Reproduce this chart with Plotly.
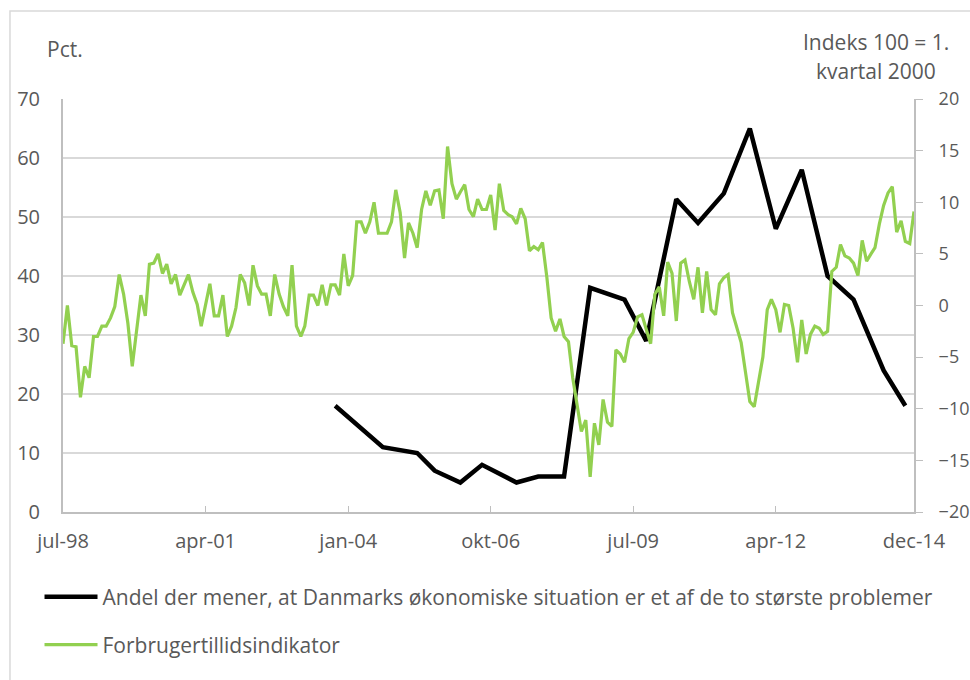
import pandas as pd
import plotly.graph_objects as go

# Forbrugertillidsindikator, månedlig jul-98 .. dec-14 (højre akse)
tillid_start = "1998-07-01"
tillid_slut = "2014-12-01"
tillid = [
    -3.7, 0.0, -3.9, -4.0, -8.9, -5.9, -7.0, -3.0, -3.0, -2.0,
    -2.0, -1.2, -0.1, 3.0, 1.1, -1.7, -5.9, -2.3, 1.0, -1.0,
    4.0, 4.1, 5.0, 3.1, 4.0, 2.1, 3.0, 1.0, 2.1, 3.0,
    1.3, 0.1, -2.0, 0.1, 2.1, -1.0, -1.0, 1.0, -3.0, -2.0,
    -0.2, 3.0, 2.2, 0.0, 3.9, 1.9, 1.1, 1.1, -1.0, 3.0,
    1.1, -0.1, -1.0, 3.9, -2.0, -3.0, -2.0, 1.0, 1.0, 0.0,
    2.0, 0.0, 2.0, 2.0, 1.0, 5.0, 1.9, 2.9, 8.1, 8.1,
    7.0, 8.1, 10.0, 7.0, 7.0, 7.0, 8.1, 11.2, 9.0, 4.6,
    8.0, 7.0, 5.6, 9.3, 11.1, 9.7, 11.1, 11.2, 8.4, 15.4,
    11.8, 10.3, 11.0, 11.7, 9.3, 8.6, 10.3, 9.3, 9.3, 10.7,
    7.3, 11.8, 9.2, 8.8, 8.6, 7.9, 9.4, 8.4, 5.3, 5.7,
    5.4, 6.1, 2.7, -1.2, -2.5, -1.3, -3.0, -3.5, -7.0, -9.9,
    -12.2, -11.1, -16.6, -11.4, -13.5, -9.1, -11.3, -11.7, -4.3, -4.7,
    -5.5, -3.2, -2.6, -1.1, -0.9, -2.3, -3.7, 1.1, 1.8, -1.0,
    4.2, 3.1, -1.5, 4.1, 4.4, 2.3, 0.6, 3.7, -0.7, 3.3,
    -0.4, -0.9, 2.1, 2.7, 3.0, -0.7, -2.2, -3.6, -6.5, -9.3,
    -9.8, -7.3, -5.0, -0.4, 0.6, -0.4, -2.6, 0.1, 0.0, -2.2,
    -5.5, -1.4, -4.7, -2.8, -2.0, -2.2, -2.8, -2.5, 3.3, 3.7,
    5.9, 4.8, 4.6, 4.1, 2.9, 6.3, 4.3, 5.0, 5.6, 7.9,
    9.7, 10.9, 11.5, 7.1, 8.2, 6.2, 6.0, 9.1,
]

# Andel der mener ... (venstre akse, pct.)
andel_datoer = [
    "2003-10-01", "2004-09-01", "2005-05-01", "2005-09-01", "2006-03-01",
    "2006-08-01", "2007-04-01", "2007-09-01", "2008-03-01", "2008-09-01",
    "2009-05-01", "2009-10-01", "2010-05-01", "2010-10-01", "2011-04-01",
    "2011-10-01", "2012-04-01", "2012-10-01", "2013-04-01", "2013-10-01",
    "2014-05-01", "2014-10-01",
]
andel = [18, 11, 10, 7, 5, 8, 5, 6, 6, 38,
         36, 29, 53, 49, 54, 65, 48, 58, 40, 36,
         24, 18]

tick_vals = ["1998-07-01", "2001-04-01", "2004-01-01", "2006-10-01",
             "2009-07-01", "2012-04-01", "2014-12-01"]
tick_text = ["jul-98", "apr-01", "jan-04", "okt-06", "jul-09", "apr-12", "dec-14"]

maaneder = pd.date_range(tillid_start, tillid_slut, freq="MS")

FONT = "Open Sans"
GRAA = "#595959"

fig = go.Figure()

fig.add_trace(go.Scatter(
    x=andel_datoer, y=andel,
    mode="lines",
    name="Andel der mener, at Danmarks økonomiske situation er et af de to største problemer",
    line=dict(color="black", width=4.5),
    legend="legend",
))

fig.add_trace(go.Scatter(
    x=maaneder, y=tillid,
    mode="lines",
    name="Forbrugertillidsindikator",
    line=dict(color="#92D050", width=3.2),
    yaxis="y2",
    legend="legend2",
))

fig.update_layout(
    width=970, height=680,
    margin=dict(l=63, r=56, t=99, b=168),
    paper_bgcolor="white",
    plot_bgcolor="white",
    font=dict(family=FONT, size=21, color=GRAA),
    xaxis=dict(
        type="date",
        range=[tillid_start, tillid_slut],
        tickvals=tick_vals, ticktext=tick_text,
        showgrid=False, zeroline=False,
        showline=True, linecolor="#bfbfbf", linewidth=2,
        ticks="inside", ticklen=6, tickcolor="#bfbfbf", tickwidth=1,
        ticklabelstandoff=10, tickfont=dict(size=20),
        automargin=False,
    ),
    yaxis=dict(
        range=[0, 70], dtick=10,
        showgrid=True, gridcolor="#d9d9d9", gridwidth=1.5,
        zeroline=False,
        showline=True, linecolor="#bfbfbf", linewidth=2,
        ticks="", ticklabelstandoff=17, tickfont=dict(size=20),
        automargin=False,
    ),
    yaxis2=dict(
        range=[-20, 20], dtick=5,
        overlaying="y", side="right",
        showgrid=False, zeroline=False,
        showline=True, linecolor="#bfbfbf", linewidth=2,
        ticks="outside", ticklen=7, tickcolor="#bfbfbf",
        ticklabelstandoff=12, tickfont=dict(size=18),
        automargin=False,
    ),
    legend=dict(
        x=-0.0276, y=-0.206, xanchor="left", yanchor="middle",
        bgcolor="rgba(0,0,0,0)", itemwidth=53,
        font=dict(family=FONT, size=21, color=GRAA),
    ),
    legend2=dict(
        x=-0.0276, y=-0.322, xanchor="left", yanchor="middle",
        bgcolor="rgba(0,0,0,0)", itemwidth=53,
        font=dict(family=FONT, size=21, color=GRAA),
    ),
    showlegend=True,
    annotations=[
        dict(text="Pct.", xref="paper", yref="paper", x=0.002, y=1.121,
             xanchor="center", yanchor="middle", showarrow=False),
        dict(text="Indeks 100 = 1.", xref="paper", yref="paper", x=0.955, y=1.138,
             xanchor="center", yanchor="middle", showarrow=False),
        dict(text="kvartal 2000", xref="paper", yref="paper", x=0.955, y=1.068,
             xanchor="center", yanchor="middle", showarrow=False),
    ],
    shapes=[
        dict(type="rect", xref="paper", yref="paper",
             x0=-0.0623, x1=1.2, y0=-0.6, y1=1.213,
             line=dict(color="#d9d9d9", width=1.5), layer="below"),
    ],
)

# fjern sidens standardmargin, så figuren fylder hele vinduet
fig.write_html("out.html", config={"displayModeBar": False},
               post_script="document.body.style.margin = '0';")
